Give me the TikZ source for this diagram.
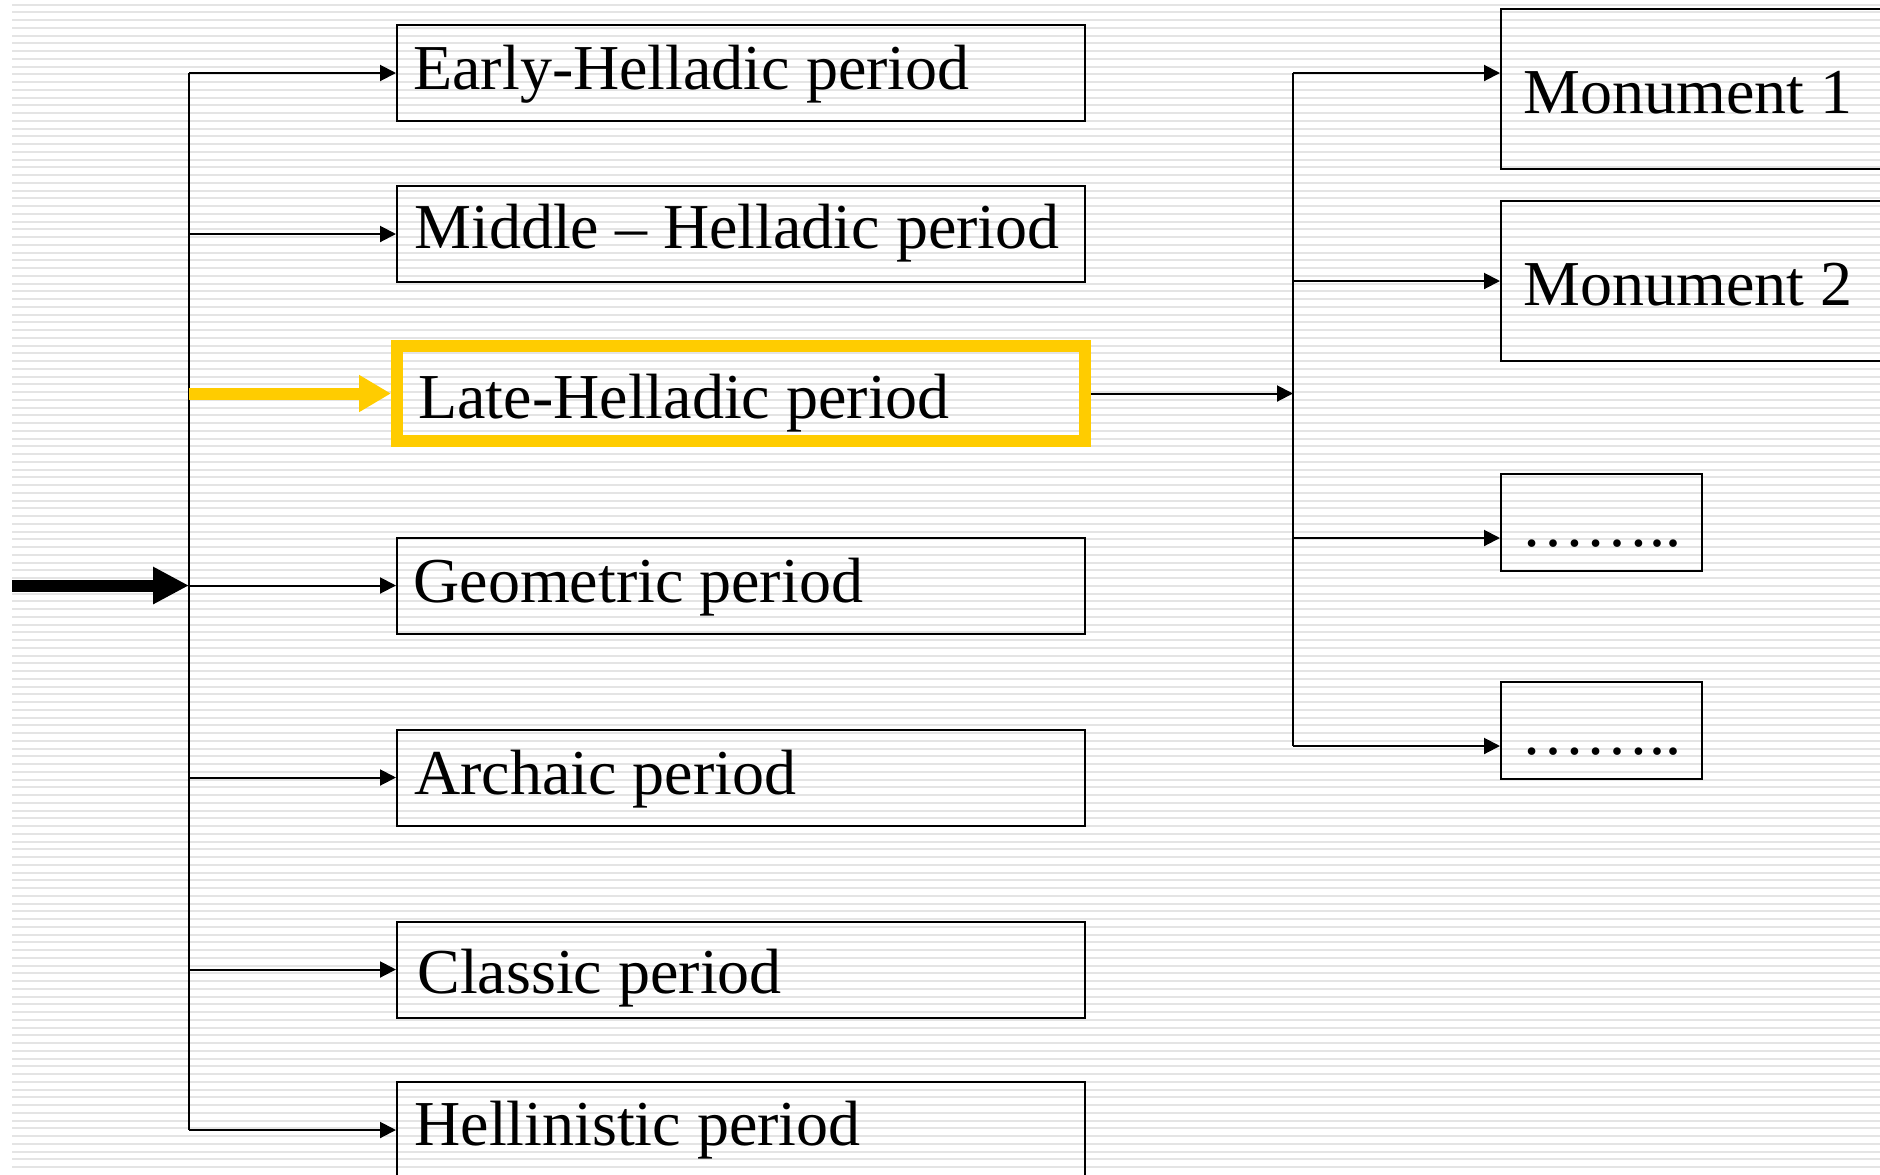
\documentclass[tikz,border=0pt]{standalone}
\usepackage{fontspec}
\setmainfont{Liberation Serif}
\usetikzlibrary{arrows.meta}
\definecolor{hlyellow}{RGB}{255,204,0}
\definecolor{stripecol}{RGB}{228,228,228}
\begin{document}
\begin{tikzpicture}[x=0.5pt,y=-0.5pt,
  stripe/.style={draw=stripecol,line width=1pt},
  box/.style={draw=black,line width=1pt,inner sep=0pt,minimum width=344pt,minimum height=48pt},
  hlbox/.style={draw=hlyellow,line width=6pt,inner sep=0pt,minimum width=344pt,minimum height=47.5pt},
  monbox/.style={draw=black,line width=1pt,inner sep=0pt,minimum width=199.5pt,minimum height=80pt},
  dotbox/.style={draw=black,line width=1pt,inner sep=0pt,minimum width=100.5pt,minimum height=48.5pt},
  lbl/.style={inner sep=0pt,anchor=base west,font=\fontsize{32pt}{38pt}\selectfont},
  bus/.style={draw=black,line width=1pt},
  arr/.style={draw=black,line width=1pt,-{Triangle[length=8pt,width=8pt]}},
  bigarr/.style={draw=black,line width=6pt,-{Triangle[length=18pt,width=17.5pt]}},
  yarr/.style={draw=hlyellow,line width=6pt,-{Triangle[length=16pt,width=17.5pt]}}]
\useasboundingbox (0,0) rectangle (1880,1174);
\clip (0,0) rectangle (1880,1174);
\fill[white] (0,0) rectangle (1880,1174);
% background stripes
\foreach \i in {0,...,150}
  \draw[stripe] (12,{4.7+\i*7.75}) -- (1880,{4.7+\i*7.75});

% period boxes
\node[box] (early) at (741,73) {};
\node[box] (middle) at (741,234) {};
\node[hlbox] (late) at (741,393.5) {};
\node[box] (geo) at (741,585.5) {};
\node[box] (arch) at (741,777.5) {};
\node[box] (class) at (741,969.5) {};
\node[box] (hell) at (741,1130) {};

\node[lbl] (tearly) at (413,89) {Early-Helladic period};
\node[lbl] (tmiddle) at (414,248) {Middle – Helladic period};
\node[lbl] (tlate) at (418,418) {Late-Helladic period};
\node[lbl] (tgeo) at (413,602) {Geometric period};
\node[lbl] (tarch) at (414,794) {Archaic period};
\node[lbl] (tclass) at (417,993) {Classic period};
\node[lbl] (thell) at (414,1145) {Hellinistic period};

% monument boxes
\node[monbox] (m1) at (1700.5,89) {};
\node[monbox] (m2) at (1700.5,281) {};
\node[dotbox] (d1) at (1601.5,522.5) {};
\node[dotbox] (d2) at (1601.5,730) {};

\node[lbl] (tm1) at (1523,113) {Monument 1};
\node[lbl] (tm2) at (1523,305) {Monument 2};
\node[lbl] (td1) at (1521,546) {……..};
\node[lbl] (td2) at (1521,754) {……..};

% left bus
\coordinate (busLtop) at (189,73);
\coordinate (busLbot) at (189,1130);
\draw[bus] (busLtop) -- (busLbot);
\coordinate (src) at (12,585.5);
\draw[bigarr] (src) -- (geo.west -| busLtop);
\draw[arr] (early.west -| busLtop) -- (early.west);
\draw[arr] (middle.west -| busLtop) -- (middle.west);
\draw[yarr] (late.west -| busLtop) -- (late.west);
\draw[arr] (geo.west -| busLtop) -- (geo.west);
\draw[arr] (arch.west -| busLtop) -- (arch.west);
\draw[arr] (class.west -| busLtop) -- (class.west);
\draw[arr] (hell.west -| busLtop) -- (hell.west);

% right bus
\coordinate (busRtop) at (1293,73);
\coordinate (busRthree) at (1293,538);
\coordinate (busRbot) at (1293,746);
\draw[bus] (busRtop) -- (busRbot);
\draw[arr] (late.east) -- (late.east -| busRtop);
\draw[arr] (busRtop) -- (m1.west |- busRtop);
\draw[arr] (m2.west -| busRtop) -- (m2.west);
\draw[arr] (busRthree) -- (d1.west |- busRthree);
\draw[arr] (busRbot) -- (d2.west |- busRbot);
\end{tikzpicture}
\end{document}
